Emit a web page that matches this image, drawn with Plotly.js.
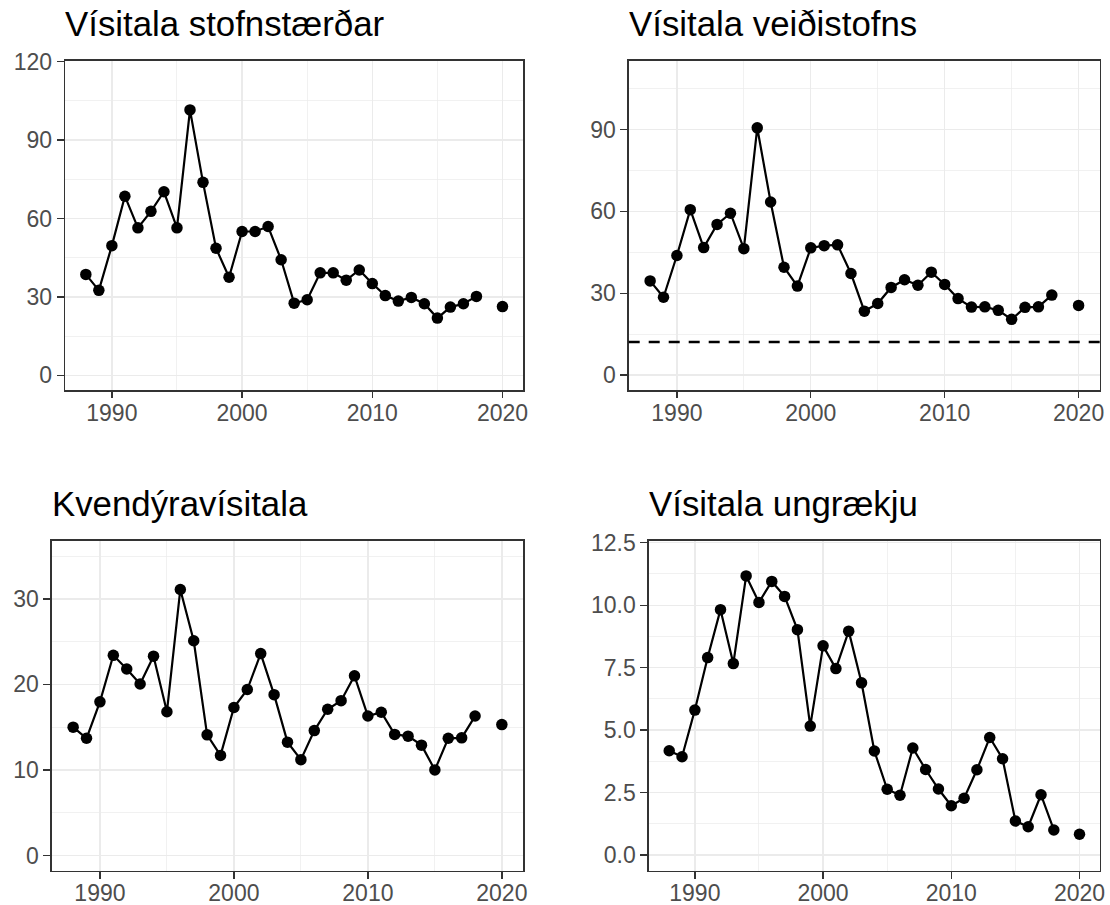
<!DOCTYPE html>
<html>
<head>
<meta charset="utf-8">
<script src="https://cdn.plot.ly/plotly-3.0.1.min.js"></script>
<style>
  html, body { margin: 0; padding: 0; background: #ffffff; }
  #chart { width: 1110px; height: 905px; }
</style>
</head>
<body>
<div id="chart"></div>
<script>
// ---- Data ----
const years = [1988, 1989, 1990, 1991, 1992, 1993, 1994, 1995, 1996, 1997,
               1998, 1999, 2000, 2001, 2002, 2003, 2004, 2005, 2006, 2007,
               2008, 2009, 2010, 2011, 2012, 2013, 2014, 2015, 2016, 2017,
               2018, 2019, 2020];

// Vísitala stofnstærðar
const stofnstaerd = [38.6, 32.5, 49.6, 68.5, 56.4, 62.7, 70.2, 56.4, 101.5, 73.8,
                     48.6, 37.5, 55.0, 55.0, 56.9, 44.2, 27.6, 28.9, 39.2, 39.2,
                     36.4, 40.3, 35.1, 30.5, 28.4, 29.8, 27.4, 21.9, 26.1, 27.4,
                     30.2, null, 26.3];

// Vísitala veiðistofns
const veidistofn = [34.5, 28.5, 43.8, 60.6, 46.7, 55.2, 59.3, 46.3, 90.6, 63.4,
                    39.5, 32.6, 46.6, 47.4, 47.7, 37.2, 23.4, 26.2, 32.1, 34.9,
                    32.9, 37.7, 33.2, 28.0, 24.9, 25.0, 23.7, 20.4, 24.8, 25.0,
                    29.3, null, 25.5];
const veidiReference = 12.1;   // dashed reference line

// Kvendýravísitala
const kvendyr = [15.0, 13.7, 17.96, 23.4, 21.8, 20.05, 23.3, 16.8, 31.1, 25.1,
                 14.1, 11.7, 17.3, 19.4, 23.6, 18.8, 13.25, 11.2, 14.6, 17.1,
                 18.1, 21.0, 16.3, 16.75, 14.15, 13.95, 12.9, 10.0, 13.7, 13.75,
                 16.3, null, 15.3];

// Vísitala ungrækju
const ungraekja = [4.17, 3.93, 5.80, 7.90, 9.82, 7.66, 11.17, 10.11, 10.95, 10.35,
                   9.02, 5.16, 8.37, 7.46, 8.96, 6.89, 4.16, 2.63, 2.39, 4.28,
                   3.42, 2.64, 1.97, 2.27, 3.41, 4.70, 3.85, 1.36, 1.13, 2.41,
                   1.00, null, 0.83];

const titles = ["Vísitala stofnstærðar", "Vísitala veiðistofns",
                "Kvendýravísitala", "Vísitala ungrækju"];

const xTicks = [1990, 2000, 2010, 2020];
const yTicks1 = [0, 30, 60, 90, 120];
const yTicks2 = [0, 30, 60, 90];
const yTicks3 = [0, 10, 20, 30];
const yTicks4 = [0, 2.5, 5, 7.5, 10, 12.5];

// ---- Styling / layout ----
const W = 1110, H = 905;
const FONT = "Liberation Sans, Arial, Helvetica, sans-serif";
// panel boxes in pixels [left, right, top, bottom]
const panels = [
  [65, 523.3, 60.7, 390.3],
  [628.7, 1100, 60.7, 390.3],
  [51.7, 523.3, 540.7, 870.7],
  [648.7, 1100, 540.7, 870.7]
];
const yRanges = [[-5.7, 120.3], [-5.6, 115.2], [-1.78, 36.8], [-0.63, 12.58]];
const yTickSets = [yTicks1, yTicks2, yTicks3, yTicks4];
const yMinor = [[15, 30], [15, 30], [5, 10], [1.25, 2.5]];
const series = [stofnstaerd, veidistofn, kvendyr, ungraekja];

const layout = {
  width: W, height: H,
  margin: {l: 0, r: 0, t: 0, b: 0},
  paper_bgcolor: "#ffffff",
  plot_bgcolor: "#ffffff",
  showlegend: false,
  font: {family: FONT, color: "#4D4D4D"},
  annotations: [],
  shapes: []
};

const traces = [];
panels.forEach((p, i) => {
  const n = i === 0 ? "" : String(i + 1);
  const xa = "xaxis" + n, ya = "yaxis" + n;
  layout[xa] = {
    domain: [p[0] / W, p[1] / W],
    anchor: "y" + n,
    range: [1986.4, 2021.6],
    tickmode: "array",
    tickvals: xTicks,
    ticktext: xTicks.map(String),
    ticks: "outside", ticklen: 6.5, tickwidth: 1.3, tickcolor: "#333333",
    ticklabelstandoff: -5,
    showline: true, mirror: true, linecolor: "#333333", linewidth: 1.3,
    showgrid: true, gridcolor: "#EBEBEB", gridwidth: 1.3,
    minor: {tick0: 1995, dtick: 10, showgrid: true, gridcolor: "#EBEBEB", gridwidth: 0.7, ticks: ""},
    zeroline: false,
    tickfont: {family: FONT, size: 23, color: "#4D4D4D"},
    fixedrange: true
  };
  layout[ya] = {
    domain: [1 - p[3] / H, 1 - p[2] / H],
    anchor: "x" + n,
    range: yRanges[i],
    tickmode: "array",
    tickvals: yTickSets[i],
    ticktext: yTickSets[i].map(v => i === 3 ? v.toFixed(1) : String(v)),
    ticks: "outside", ticklen: 7, tickwidth: 1.3, tickcolor: "#333333",
    showline: true, mirror: true, linecolor: "#333333", linewidth: 1.3,
    showgrid: true, gridcolor: "#EBEBEB", gridwidth: 1.3,
    minor: {tick0: yMinor[i][0], dtick: yMinor[i][1], showgrid: true, gridcolor: "#EBEBEB", gridwidth: 0.7, ticks: ""},
    zeroline: false,
    tickfont: {family: FONT, size: 23, color: "#4D4D4D"},
    fixedrange: true
  };
  traces.push({
    type: "scatter",
    mode: "lines+markers",
    x: years,
    y: series[i],
    xaxis: "x" + n,
    yaxis: "y" + n,
    connectgaps: false,
    line: {color: "#000000", width: 2.2},
    marker: {color: "#000000", size: 11.5},
    cliponaxis: false,
    hoverinfo: "x+y"
  });
  const baseline = p[2] - 23.4;
  layout.annotations.push({
    xref: "paper", yref: "paper",
    x: (p[0] - 2) / W,
    y: 1 - (baseline + 8) / H,
    xanchor: "left", yanchor: "bottom",
    text: titles[i],
    showarrow: false,
    font: {family: FONT, size: 34.8, color: "#000000"}
  });
});

// dashed reference line in the "Vísitala veiðistofns" panel
layout.shapes.push({
  type: "line",
  xref: "x2 domain", yref: "y2",
  x0: 0, x1: 1,
  y0: veidiReference, y1: veidiReference,
  line: {color: "#000000", width: 2.3, dash: "11px,9px"},
  layer: "above"
});

Plotly.newPlot("chart", traces, layout, {displayModeBar: false, staticPlot: true});
</script>
</body>
</html>
